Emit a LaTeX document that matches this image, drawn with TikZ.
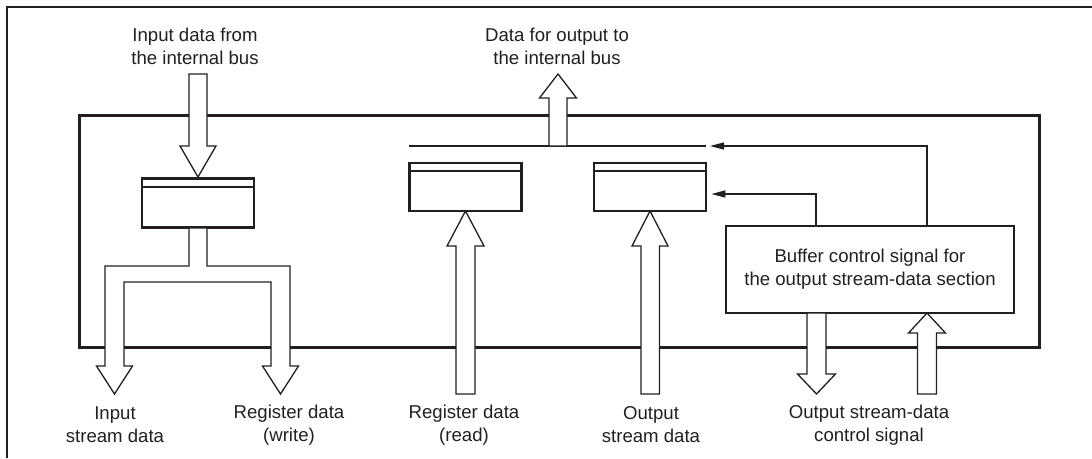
\documentclass[tikz,border=0pt]{standalone}
\usepackage{fontspec}
\setmainfont{Liberation Sans}
\usetikzlibrary{arrows.meta}
\definecolor{ink}{HTML}{231F20}
\begin{document}
\begin{tikzpicture}[x=1pt,y=-1pt,
  txt/.style={align=center,text=ink,font=\fontsize{18.6}{23}\selectfont,inner sep=0pt},
  regbox/.style={draw=ink,line width=2.7pt,minimum width=112pt,minimum height=49pt,inner sep=0pt},
  mainbox/.style={draw=ink,line width=3pt,inner sep=0pt},
  blk/.style={draw=ink,line width=1.3pt,fill=white,line join=miter},
  ctl/.style={draw=ink,line width=1.2pt,-{Triangle[length=14pt,width=7pt]}},
  busline/.style={draw=ink,line width=2.8pt}]
\useasboundingbox (0,0) rectangle (1092,458);
% cropped outer frame
\draw[ink,line width=2.6pt] (1092,7) -- (7,7) -- (7,458);
% main box
\node[mainbox,anchor=north west,minimum width=960pt,minimum height=232pt] (main) at (78,114) {};
% registers
\node[regbox] (inreg) at (198,203) {};
\draw[ink,line width=2.2pt] ([yshift=-10pt]inreg.north west) -- ([yshift=-10pt]inreg.north east);
\node[regbox,minimum height=48pt] (rdreg) at (465.5,187) {};
\draw[ink,line width=2.2pt] ([yshift=-9pt]rdreg.north west) -- ([yshift=-9pt]rdreg.north east);
\node[regbox,minimum height=48pt] (outreg) at (650,187) {};
\draw[ink,line width=2.2pt] ([yshift=-9pt]outreg.north west) -- ([yshift=-9pt]outreg.north east);
% bus line
\coordinate (busL) at (409,146);
\coordinate (busR) at (706,146);
\draw[busline] (busL) -- (busR);
% control box
\node[regbox,minimum width=288pt,minimum height=87pt,line width=2.8pt] (ctrl) at (870,269.5) {};
\node[txt] (ctrltxt) at (ctrl.center) {Buffer control signal for\\the output stream-data section};
% input block arrow
\draw[blk] (189,74) -- (189,146) -- (180,146) -- (198,177) -- (216,146) -- (207,146) -- (207,74) -- cycle;
% split arrow from input register
\draw[blk] (189,228) -- (189,266) -- (105,266) -- (105,366) -- (96.5,366) -- (114.5,394) -- (132.5,366) -- (124,366)
  -- (124,282) -- (271,282) -- (271,366) -- (262.5,366) -- (280.5,394) -- (298.5,366) -- (290,366) -- (290,266)
  -- (207,266) -- (207,228) -- cycle;
% output to internal bus
\draw[blk] (549,146) -- (549,98) -- (539.5,98) -- (558,74) -- (576.5,98) -- (567,98) -- (567,146) -- cycle;
% register data read
\draw[blk] (456,394) -- (456,246) -- (447,246) -- (465.5,211) -- (484,246) -- (475,246) -- (475,394) -- cycle;
% output stream data
\draw[blk] (641,394) -- (641,246) -- (632,246) -- (650,211) -- (668,246) -- (659.5,246) -- (659.5,394) -- cycle;
% output stream-data control signal (down)
\draw[blk] (807,313) -- (807,374) -- (797.5,374) -- (816.5,394) -- (835.5,374) -- (826,374) -- (826,313) -- cycle;
% control signal in (up)
\draw[blk] (917.5,394) -- (917.5,333) -- (908.5,333) -- (927,313) -- (945.5,333) -- (936.5,333) -- (936.5,394) -- cycle;
% control lines
\draw[ctl] (ctrl.north -| 927,0) |- ([xshift=4pt]busR);
\draw[ctl] (ctrl.north -| 816,0) |- ([xshift=4pt]outreg.east |- 0,194);
% labels
\node[txt] (l1) at (195,46) {Input data from\\the internal bus};
\node[txt] (l2) at (557,46) {Data for output to\\the internal bus};
\node[txt] (l3) at (115,425) {Input\\stream data};
\node[txt] (l4) at (289,425) {Register data\\(write)};
\node[txt] (l5) at (464,425) {Register data\\(read)};
\node[txt] (l6) at (651,425) {Output\\stream data};
\node[txt] (l7) at (869,425) {Output stream-data\\control signal};
\end{tikzpicture}
\end{document}
